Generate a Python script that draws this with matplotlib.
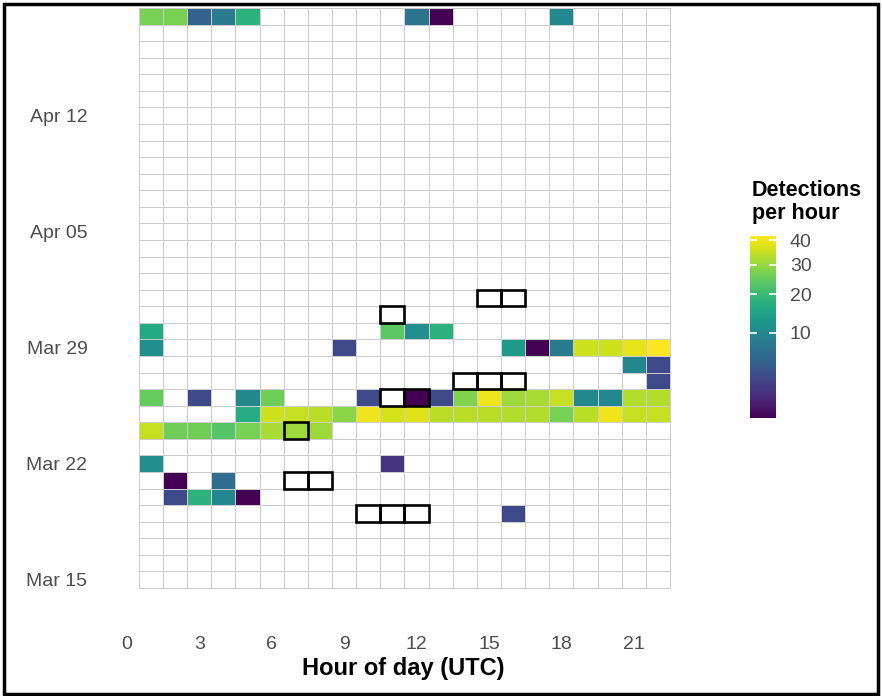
import matplotlib
matplotlib.use("Agg")
import matplotlib.pyplot as plt
import matplotlib.dates as mdates
from matplotlib.colors import PowerNorm
from matplotlib.patches import Rectangle
import numpy as np
import pandas as pd

plt.rcParams["font.family"] = ["Liberation Sans", "DejaVu Sans"]

# coloured tiles: date, hour (UTC), detections in that hour
det_dates = (
    ["2021-04-18"] * 8
    + ["2021-03-30"] * 4
    + ["2021-03-29"] * 9
    + ["2021-03-28"] * 2
    + ["2021-03-27"] * 1
    + ["2021-03-26"] * 16
    + ["2021-03-25"] * 18
    + ["2021-03-24"] * 8
    + ["2021-03-22"] * 2
    + ["2021-03-21"] * 2
    + ["2021-03-20"] * 4
    + ["2021-03-19"] * 1
)
det_hours = (
    [1, 2, 3, 4, 5, 12, 13, 18]
    + [1, 11, 12, 13]
    + [1, 9, 16, 17, 18, 19, 20, 21, 22]
    + [21, 22]
    + [22]
    + [1, 3, 5, 6, 10, 12, 13, 14, 15, 16, 17, 18, 19, 20, 21, 22]
    + [5, 6, 7, 8, 9, 10, 11, 12, 13, 14, 15, 16, 17, 18, 19, 20, 21, 22]
    + [1, 2, 3, 4, 5, 6, 7, 8]
    + [1, 11]
    + [2, 4]
    + [2, 3, 4, 5]
    + [16]
)
det_counts = (
    [27, 27, 5, 8, 18, 7, 1, 10]
    + [16, 24, 11, 18]
    + [11, 3, 13, 1, 8, 36, 36, 39, 42]
    + [10, 3]
    + [3]
    + [25, 3, 10, 26, 3, 1, 3, 28, 40, 31, 32, 35, 10, 10, 33, 33]
    + [17, 36, 35, 34, 29, 40, 37, 38, 34, 34, 34, 33, 33, 27, 34, 40, 35, 35]
    + [35, 26, 26, 23, 27, 32, 31, 31]
    + [11, 2]
    + [1, 6]
    + [3, 18, 10, 1]
    + [3]
)

# hours outlined in black
box_dates = ["2021-04-01", "2021-04-01", "2021-03-31",
             "2021-03-27", "2021-03-27", "2021-03-27",
             "2021-03-26", "2021-03-26", "2021-03-24",
             "2021-03-21", "2021-03-21",
             "2021-03-19", "2021-03-19", "2021-03-19"]
box_hours = [15, 16, 11, 14, 15, 16, 11, 12, 7, 7, 8, 10, 11, 12]

first_day = "2021-03-15"
last_day = "2021-04-18"
hours = list(range(1, 23))
x_ticks = [0, 3, 6, 9, 12, 15, 18, 21]
date_ticks = ["2021-03-15", "2021-03-22", "2021-03-29", "2021-04-05", "2021-04-12"]
cbar_ticks = [10, 20, 30, 40]

days = pd.date_range(first_day, last_day)
grid = np.full((len(days), len(hours)), np.nan)
for d, h, c in zip(det_dates, det_hours, det_counts):
    grid[days.get_loc(pd.Timestamp(d)), hours.index(h)] = c

day_num = mdates.date2num(days)
y_edges = np.append(day_num - 0.5, day_num[-1] + 0.5)
x_edges = np.append(np.array(hours) - 0.5, hours[-1] + 0.5)

cmap = plt.get_cmap("viridis").copy()
cmap.set_bad("white")
norm = PowerNorm(0.5, vmin=min(det_counts), vmax=max(det_counts))

fig = plt.figure(figsize=(8.82, 6.96), dpi=100)
W, H = 882, 696
ax = fig.add_axes([112.4 / W, 1 - 617 / H, 584.1 / W, 609 / H])

mesh = ax.pcolormesh(x_edges, y_edges, np.ma.masked_invalid(grid), cmap=cmap,
                     norm=norm, edgecolors="#cdcdcd", linewidth=0.7)

for d, h in zip(box_dates, box_hours):
    y = mdates.date2num(pd.Timestamp(d))
    ax.add_patch(Rectangle((h - 0.5, y - 0.5), 1, 1, fill=False,
                           edgecolor="black", linewidth=1.9, zorder=3))

ax.set_xlim(-0.6, 23.6)
ax.set_ylim(day_num[0] - 0.5 - 1.75, day_num[-1] + 0.5)
ax.set_xticks(x_ticks)
ax.set_yticks(mdates.date2num(pd.to_datetime(date_ticks)))
ax.yaxis.set_major_formatter(mdates.DateFormatter("%b %d"))
ax.tick_params(length=0, labelsize=14, labelcolor="#4d4d4d")
ax.tick_params(axis="y", pad=18)
ax.tick_params(axis="x", pad=14)
for s in ax.spines.values():
    s.set_visible(False)

fig.text(403 / W, 1 - 668 / H, "Hour of day (UTC)", ha="center", va="center",
         fontsize=17, fontweight="bold")

cax = fig.add_axes([750 / W, 1 - 418 / H, 26 / W, 182 / H])
cb = fig.colorbar(mesh, cax=cax, ticks=cbar_ticks)
cb.outline.set_visible(False)
cax.tick_params(direction="in", color="white", length=5, width=1.2,
                left=True, right=True, labelleft=False, labelright=True,
                labelsize=14, labelcolor="#4d4d4d", pad=10)
fig.text(752 / W, 1 - 180 / H, "Detections\nper hour", ha="left", va="top",
         fontsize=15.5, fontweight="bold", linespacing=1.1)

fig.add_artist(Rectangle((0.004, 0.003), 0.992, 0.991, transform=fig.transFigure,
                         fill=False, edgecolor="black", linewidth=2.5))

fig.savefig("out.png", dpi=100)
